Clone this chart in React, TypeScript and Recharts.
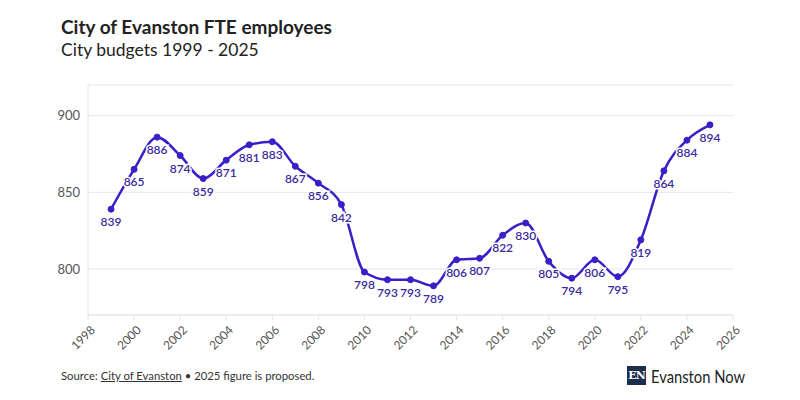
import React from 'react';
import { LineChart, Line, XAxis, YAxis, CartesianGrid, LabelList } from 'recharts';

const years = [1999, 2000, 2001, 2002, 2003, 2004, 2005, 2006, 2007, 2008, 2009, 2010, 2011, 2012, 2013, 2014, 2015, 2016, 2017, 2018, 2019, 2020, 2021, 2022, 2023, 2024, 2025];
const fte = [839, 865, 886, 874, 859, 871, 881, 883, 867, 856, 842, 798, 793, 793, 789, 806, 807, 822, 830, 805, 794, 806, 795, 819, 864, 884, 894];
const xTicks = [1998, 2000, 2002, 2004, 2006, 2008, 2010, 2012, 2014, 2016, 2018, 2020, 2022, 2024, 2026];
const yTicks = [800, 850, 900];

const data = years.map((y, i) => ({ year: y, fte: fte[i] }));

const FONT = 'Lato, "Noto Sans", sans-serif';
const LINE = '#3a1fc6';
const LABEL = '#3a2a9e';

const XTick = (props: any) => {
  const { x, y, payload } = props;
  return (
    <g transform={`translate(${x + 5},${y + 6}) rotate(-45)`}>
      <text x={0} y={0} dy={4} textAnchor="end" fontSize={12} fill="#555" fontFamily={FONT}>
        {payload.value}
      </text>
    </g>
  );
};

const PointLabel = (props: any) => {
  const { x, y, value } = props;
  return (
    <text
      x={x}
      y={y + 17}
      textAnchor="middle"
      fontSize={12}
      fontWeight={600}
      fill={LABEL}
      stroke="#fff"
      strokeWidth={3}
      paintOrder="stroke"
      fontFamily={FONT}
    >
      {value}
    </text>
  );
};

export default function App() {
  return (
    <div style={{ position: 'absolute', left: 0, top: 0, width: 800, height: 400, background: '#fff', fontFamily: FONT }}>
      <div style={{ position: 'absolute', left: 61, top: 15, fontSize: 19, fontWeight: 700, color: '#222' }}>
        City of Evanston FTE employees
      </div>
      <div style={{ position: 'absolute', left: 61, top: 39, fontSize: 17.5, color: '#222' }}>
        City budgets 1999 - 2025
      </div>
      <LineChart width={800} height={400} data={data} margin={{ top: 85, right: 67, bottom: 45, left: 48 }}>
        <CartesianGrid horizontal={true} vertical={false} stroke="#e6e6e6" />
        <XAxis
          dataKey="year"
          type="number"
          domain={[1998, 2026]}
          ticks={xTicks}
          interval={0}
          height={40}
          axisLine={{ stroke: '#e6e6e6' }}
          tickLine={{ stroke: '#e6e6e6' }}
          tickSize={5}
          tick={<XTick />}
        />
        <YAxis
          type="number"
          domain={[770, 920]}
          ticks={yTicks}
          width={40}
          axisLine={{ stroke: '#e6e6e6' }}
          tickLine={false}
          tick={{ fontSize: 13, fill: '#555', fontFamily: FONT }}
        />
        <Line
          type="monotone"
          dataKey="fte"
          stroke={LINE}
          strokeWidth={2.5}
          dot={{ r: 3, fill: LINE, stroke: LINE, strokeWidth: 1 }}
          isAnimationActive={false}
        >
          <LabelList dataKey="fte" content={<PointLabel />} />
        </Line>
      </LineChart>
      <div style={{ position: 'absolute', left: 61, top: 369, fontSize: 11.3, color: '#333' }}>
        Source: <span style={{ textDecoration: 'underline' }}>City of Evanston</span> • 2025 figure is proposed.
      </div>
      <div style={{ position: 'absolute', left: 627, top: 366, width: 19, height: 19, background: '#1d2e4a', color: '#fff', fontFamily: '"DejaVu Serif", serif', fontWeight: 700, fontSize: 11, lineHeight: '19px', textAlign: 'center', letterSpacing: -1 }}>
        EN
      </div>
      <div style={{ position: 'absolute', left: 651, top: 364, fontSize: 18, lineHeight: '24px', color: '#222', whiteSpace: 'nowrap', transform: 'scaleX(0.82)', transformOrigin: 'left center' }}>
        Evanston Now
      </div>
    </div>
  );
}
